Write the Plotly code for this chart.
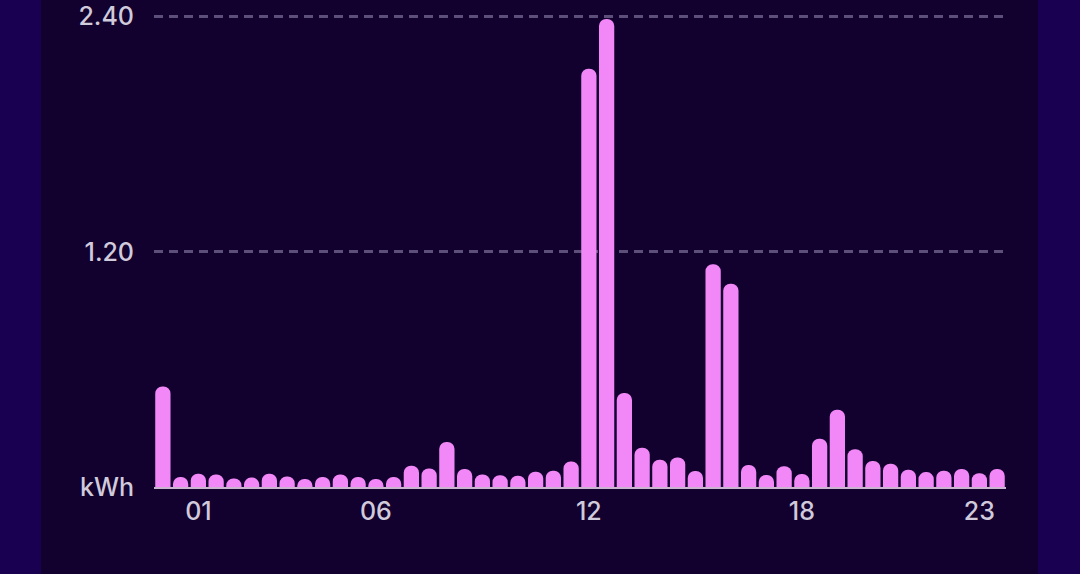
import plotly.graph_objects as go

# Half-hourly slots (48 per day)
slots = [f"{h:02d}:{m:02d}" for h in range(24) for m in (0, 30)]

energy_kwh = [
    0.513, 0.051, 0.068, 0.064, 0.044, 0.048, 0.068, 0.054,
    0.041, 0.051, 0.064, 0.051, 0.041, 0.051, 0.109, 0.094,
    0.230, 0.092, 0.064, 0.060, 0.058, 0.078, 0.083, 0.130,
    2.134, 2.388, 0.480, 0.200, 0.139, 0.151, 0.082, 1.137,
    1.037, 0.112, 0.061, 0.106, 0.066, 0.246, 0.394, 0.193,
    0.133, 0.119, 0.088, 0.076, 0.083, 0.092, 0.070, 0.092,
]

x_tick_vals = ["01:00", "06:00", "12:00", "18:00", "23:00"]
x_tick_text = ["01", "06", "12", "18", "23"]
y_tick_vals = [0, 1.2, 2.4]
y_tick_text = ["kWh", "1.20", "2.40"]

OUTER = "#1a0050"
INNER = "#12002e"
BAR = "#f287f7"
TEXT = "#d0cadb"
GRID = "#5c4f7a"
BASE = "#c9b3cf"

fig = go.Figure(
    go.Bar(
        x=slots,
        y=energy_kwh,
        marker=dict(color=BAR, cornerradius="50%", line=dict(width=0)),
        hovertemplate="%{x}: %{y:.2f} kWh<extra></extra>",
    )
)

L, R, T, B = 154, 74, 15, 87
W, H = 1080, 574
pw = W - L - R
ph = H - T - B

fig.add_shape(
    type="rect", xref="paper", yref="paper", layer="below",
    x0=(41 - L) / pw, x1=(1038 - L) / pw, y0=-0.4, y1=1.3,
    fillcolor=INNER, line=dict(width=0),
)

fig.update_layout(
    width=W, height=H,
    margin=dict(l=L, r=R, t=T, b=B, pad=0, autoexpand=False),
    paper_bgcolor=OUTER,
    plot_bgcolor=INNER,
    bargap=0.14,
    showlegend=False,
    font=dict(family="Inter, Lato, sans-serif", size=25, color=TEXT, weight=500),
    xaxis=dict(
        type="category", automargin=False,
        tickmode="array", tickvals=x_tick_vals, ticktext=x_tick_text,
        showgrid=False, zeroline=False,
        showline=True, linecolor=BASE, linewidth=2,
        ticks="outside", ticklen=1, tickcolor="rgba(0,0,0,0)",
        tickfont=dict(size=25, color=TEXT),
        fixedrange=True,
    ),
    yaxis=dict(
        range=[0, 2.408], automargin=False,
        tickmode="array", tickvals=y_tick_vals, ticktext=y_tick_text,
        showgrid=True, gridcolor=GRID, gridwidth=2.5, griddash="9px,6px",
        zeroline=False, showline=False,
        ticks="outside", ticklen=14, tickcolor="rgba(0,0,0,0)",
        tickfont=dict(size=25, color=TEXT),
        fixedrange=True,
    ),
)

fig.write_html(
    "out.html",
    config={"displayModeBar": False},
    post_script="document.body.style.margin='0';document.body.style.overflow='hidden';",
)
